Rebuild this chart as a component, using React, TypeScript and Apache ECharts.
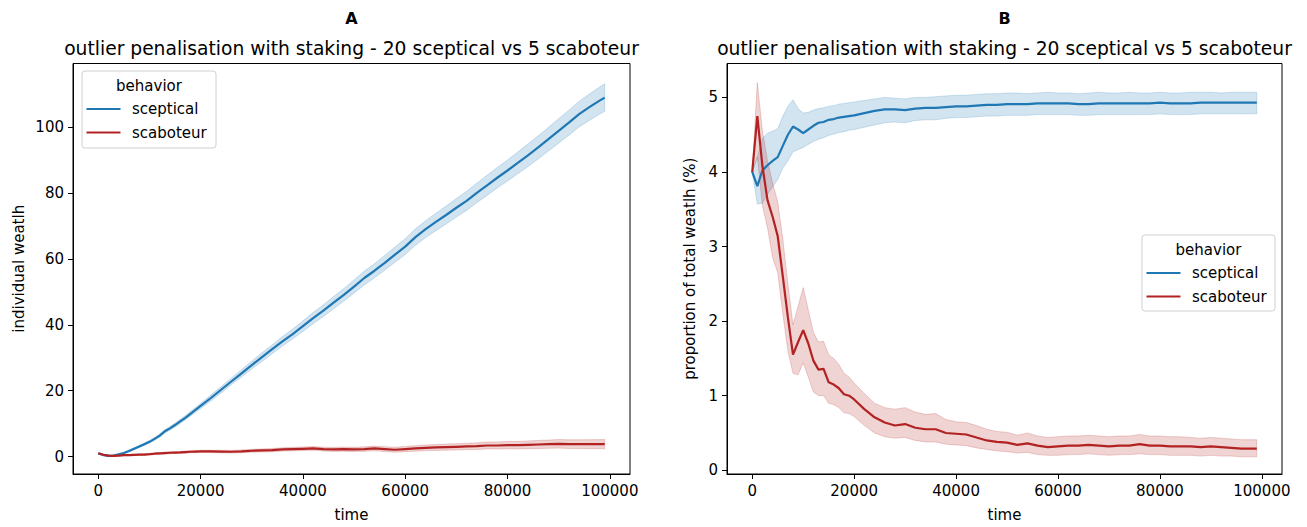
import React, { useEffect, useRef } from "react";
import * as echarts from "echarts";

const T = [0,1000,2000,3000,4000,5000,6000,7000,8000,9000,10000,11000,12000,13000,14000,15000,16000,17000,18000,19000,20000,
22000,24000,26000,28000,30000,32000,34000,36000,38000,40000,
42000,44000,46000,48000,50000,52000,54000,56000,58000,60000,
62000,64000,66000,68000,70000,72000,74000,76000,78000,80000,
82000,84000,86000,88000,90000,92000,94000,96000,98000,
99000];

// Panel A: individual wealth
const A_SC_MEAN = [1.0,0.5,0.25,0.35,0.7,1.1,1.7,2.4,3.1,3.8,4.5,5.4,6.4,7.7,8.6,9.6,10.7,11.8,13.0,14.2,15.4,
17.8,20.3,22.8,25.3,27.8,30.2,32.6,35.0,37.2,39.6,
42.0,44.3,46.7,49.1,51.6,54.2,56.4,58.8,61.3,63.7,
66.6,69.0,71.2,73.3,75.5,77.6,80.0,82.3,84.6,86.8,
89.1,91.4,93.8,96.3,98.8,101.3,103.9,106.0,108.0,
108.9];
const A_SC_LO = [1.0,0.35,0.05,0.15,0.45,0.85,1.4,2.1,2.75,3.45,4.1,4.95,5.9,7.2,8.05,9.0,10.1,11.15,12.3,13.45,14.6,
16.9,19.35,21.8,24.2,26.6,28.9,31.25,33.55,35.7,38.0,
40.3,42.55,44.85,47.2,49.6,52.1,54.25,56.55,59.0,61.3,
64.1,66.45,68.55,70.6,72.7,74.7,77.05,79.25,81.5,83.6,
85.8,88.0,90.3,92.7,95.1,97.5,100.0,102.0,103.9,
104.7];
const A_SC_HI = [1.0,0.65,0.45,0.55,0.95,1.35,2.0,2.7,3.45,4.15,4.9,5.85,6.9,8.2,9.15,10.2,11.3,12.45,13.7,14.95,16.2,
18.7,21.25,23.8,26.4,29.0,31.5,33.95,36.45,38.7,41.2,
43.7,46.05,48.55,51.0,53.6,56.3,58.55,61.05,63.6,66.1,
69.1,71.55,73.85,76.0,78.3,80.5,82.95,85.35,87.7,90.0,
92.4,94.8,97.3,99.9,102.5,105.1,107.8,110.0,112.1,
113.1];
const A_SB_MEAN = [1.0,0.6,0.3,0.25,0.35,0.45,0.5,0.55,0.6,0.65,0.75,0.9,1.0,1.1,1.2,1.25,1.3,1.4,1.5,1.55,1.6,
1.6,1.55,1.5,1.6,1.8,1.9,2.0,2.2,2.3,2.4,
2.5,2.3,2.2,2.3,2.2,2.3,2.5,2.3,2.1,2.3,
2.5,2.7,2.8,2.9,3.0,3.1,3.2,3.4,3.4,3.5,
3.5,3.6,3.7,3.8,3.9,3.8,3.8,3.8,3.8,
3.8];
const A_SB_LO = [1.0,0.45,0.15,0.1,0.2,0.28,0.32,0.35,0.38,0.42,0.5,0.64,0.73,0.82,0.91,0.95,0.99,1.08,1.17,1.21,1.25,
1.23,1.16,1.09,1.17,1.35,1.43,1.51,1.69,1.77,1.85,
1.93,1.71,1.59,1.67,1.55,1.62,1.79,1.56,1.33,1.5,
1.67,1.84,1.91,1.98,2.05,2.12,2.19,2.36,2.33,2.4,
2.36,2.42,2.48,2.54,2.6,2.48,2.46,2.44,2.42,
2.4];
const A_SB_HI = [1.0,0.75,0.45,0.4,0.5,0.62,0.68,0.75,0.82,0.88,1.0,1.16,1.27,1.38,1.49,1.55,1.61,1.72,1.83,1.89,1.95,
1.97,1.94,1.91,2.03,2.25,2.37,2.49,2.71,2.83,2.95,
3.07,2.89,2.81,2.93,2.85,2.98,3.21,3.04,2.87,3.1,
3.33,3.56,3.69,3.82,3.95,4.08,4.21,4.44,4.47,4.6,
4.64,4.78,4.92,5.06,5.2,5.12,5.14,5.16,5.18,
5.2];

// Panel B: proportion of total wealth (%)
const B_SC_MEAN = [4.0,3.81,4.02,4.09,4.15,4.2,4.35,4.5,4.61,4.57,4.52,4.57,4.62,4.66,4.67,4.7,4.71,4.73,4.74,4.75,4.76,
4.79,4.82,4.84,4.84,4.83,4.85,4.86,4.86,4.87,4.88,
4.88,4.89,4.9,4.9,4.91,4.91,4.91,4.92,4.92,4.92,
4.92,4.91,4.91,4.92,4.92,4.92,4.92,4.92,4.92,4.93,
4.92,4.92,4.92,4.93,4.93,4.93,4.93,4.93,4.93,
4.93];
const B_SC_LO = [4.0,3.57,3.58,3.7,3.8,3.9,4.05,4.15,4.27,4.3,4.33,4.37,4.41,4.44,4.46,4.49,4.51,4.53,4.54,4.56,4.57,
4.6,4.63,4.66,4.67,4.66,4.69,4.7,4.7,4.72,4.73,
4.73,4.74,4.75,4.75,4.76,4.76,4.76,4.77,4.77,4.77,
4.77,4.76,4.76,4.77,4.77,4.77,4.77,4.77,4.77,4.78,
4.77,4.77,4.77,4.78,4.78,4.78,4.78,4.78,4.78,
4.78];
const B_SC_HI = [4.0,4.2,4.45,4.52,4.55,4.58,4.75,4.88,4.97,4.85,4.79,4.8,4.83,4.85,4.86,4.88,4.89,4.91,4.92,4.93,4.94,
4.96,4.98,5.0,4.99,4.98,5.0,5.0,5.01,5.02,5.03,
5.03,5.04,5.05,5.05,5.06,5.06,5.05,5.06,5.07,5.06,
5.06,5.05,5.06,5.07,5.06,5.06,5.07,5.06,5.06,5.07,
5.06,5.06,5.07,5.07,5.07,5.06,5.07,5.07,5.07,
5.07];
const B_SB_MEAN = [4.0,4.75,4.08,3.62,3.4,3.14,2.6,2.05,1.55,1.72,1.88,1.7,1.47,1.35,1.36,1.18,1.15,1.1,1.02,1.0,0.95,
0.82,0.71,0.64,0.6,0.62,0.57,0.55,0.55,0.5,0.49,
0.48,0.44,0.4,0.38,0.37,0.34,0.36,0.33,0.31,0.32,
0.33,0.33,0.34,0.33,0.32,0.33,0.33,0.35,0.33,0.33,
0.32,0.32,0.32,0.31,0.32,0.31,0.3,0.29,0.29,
0.29];
const B_SB_LO = [4.0,4.2,3.55,3.25,2.85,2.65,2.1,1.6,1.3,1.28,1.44,1.25,1.05,1.0,1.0,0.9,0.88,0.84,0.77,0.76,0.72,
0.6,0.5,0.45,0.43,0.44,0.4,0.38,0.38,0.35,0.34,
0.33,0.3,0.28,0.26,0.25,0.23,0.24,0.21,0.2,0.2,
0.21,0.21,0.22,0.21,0.2,0.21,0.21,0.22,0.21,0.21,
0.2,0.2,0.2,0.19,0.2,0.19,0.19,0.18,0.18,
0.18];
const B_SB_HI = [4.0,5.2,4.55,4.15,3.85,3.6,3.1,2.5,1.95,2.2,2.45,2.15,1.85,1.72,1.73,1.55,1.5,1.42,1.3,1.25,1.17,
1.03,0.9,0.84,0.82,0.84,0.78,0.75,0.76,0.68,0.65,
0.64,0.6,0.55,0.52,0.51,0.47,0.5,0.46,0.44,0.45,
0.46,0.46,0.47,0.46,0.45,0.46,0.46,0.48,0.46,0.46,
0.45,0.45,0.44,0.43,0.44,0.43,0.42,0.41,0.41,
0.41];

const X_TICKS = [0, 20000, 40000, 60000, 80000, 100000];
const A_Y_TICKS = [0, 20, 40, 60, 80, 100];
const B_Y_TICKS = [0, 1, 2, 3, 4, 5];
const GROUPS = ["sceptical", "scaboteur"];
const PANEL_LABELS = ["A", "B"];
const SUBTITLE = "outlier penalisation with staking - 20 sceptical vs 5 scaboteur";

const BLUE = "#1f77b4";
const RED = "#b22222";
const BLUE_BAND = "rgba(31,119,180,0.2)";
const RED_BAND = "rgba(178,34,34,0.2)";
const FONT = "DejaVu Sans";

function pairs(ys: number[]) {
  return T.map((t, i) => [t, ys[i]]);
}

function groupSeries(key: string, name: string, axis: number, mean: number[], lo: number[], hi: number[], color: string, band: string) {
  return [
    {
      type: "custom", name: key + "-band", xAxisIndex: axis, yAxisIndex: axis,
      coordinateSystem: "cartesian2d", silent: true, clip: true,
      data: T.map((t, i) => [t, lo[i], hi[i]]),
      encode: { x: 0, y: [1, 2] },
      renderItem: (params: any, api: any) => {
        if (params.dataIndex !== 0) return null;
        const pts: number[][] = [];
        for (let i = 0; i < T.length; i++) pts.push(api.coord([T[i], hi[i]]));
        for (let i = T.length - 1; i >= 0; i--) pts.push(api.coord([T[i], lo[i]]));
        return { type: "polygon", shape: { points: pts }, style: { fill: band, stroke: band, lineWidth: 1 } };
      },
    },
    {
      type: "line", name, xAxisIndex: axis, yAxisIndex: axis,
      data: pairs(mean), symbol: "none",
      lineStyle: { color, width: 2.2 }, itemStyle: { color },
    },
  ];
}

function xAxis(idx: number, min: number, max: number) {
  return {
    type: "value", gridIndex: idx, min, max,
    name: "time", nameLocation: "middle", nameGap: 33,
    nameTextStyle: { fontSize: 15, color: "#000", fontFamily: FONT },
    axisLine: { show: true, onZero: false, lineStyle: { color: "#000", width: 1 } },
    axisTick: { show: true, length: 5, customValues: X_TICKS, lineStyle: { color: "#000", width: 1 } },
    axisLabel: { customValues: X_TICKS, formatter: (v: number) => String(v), fontSize: 15, color: "#000", margin: 9, fontFamily: FONT },
    splitLine: { show: false },
  };
}
function yAxis(idx: number, min: number, max: number, ticks: number[], name: string, gap: number) {
  return {
    type: "value", gridIndex: idx, min, max,
    name, nameLocation: "middle", nameGap: gap,
    nameTextStyle: { fontSize: 15, color: "#000", fontFamily: FONT },
    axisLine: { show: true, onZero: false, lineStyle: { color: "#000", width: 1 } },
    axisTick: { show: true, length: 5, customValues: ticks, lineStyle: { color: "#000", width: 1 } },
    axisLabel: { customValues: ticks, formatter: (v: number) => String(v), fontSize: 15, color: "#000", margin: 9, fontFamily: FONT },
    splitLine: { show: false },
  };
}

function legendGraphic(x: number, y: number, w: number, h: number) {
  const cx = x + w / 2;
  return [
    { type: "rect", z: 100, shape: { x, y, width: w, height: h, r: 3 }, style: { fill: "rgba(255,255,255,0.8)", stroke: "#d0d0d0", lineWidth: 1 } },
    { type: "text", z: 101, style: { text: "behavior", x: cx, y: y + 15, fontSize: 15, fontFamily: FONT, fill: "#000", align: "center", verticalAlign: "middle" } },
    { type: "line", z: 101, shape: { x1: x + 4.5, y1: y + 38, x2: x + 38.5, y2: y + 38 }, style: { stroke: BLUE, lineWidth: 2.2 } },
    { type: "line", z: 101, shape: { x1: x + 4.5, y1: y + 61.5, x2: x + 38.5, y2: y + 61.5 }, style: { stroke: RED, lineWidth: 2.2 } },
    { type: "text", z: 101, style: { text: GROUPS[0], x: x + 50, y: y + 38, fontSize: 15, fontFamily: FONT, fill: "#000", align: "left", verticalAlign: "middle" } },
    { type: "text", z: 101, style: { text: GROUPS[1], x: x + 50, y: y + 61.5, fontSize: 15, fontFamily: FONT, fill: "#000", align: "left", verticalAlign: "middle" } },
  ];
}

function titleGraphic(cx: number, label: string) {
  return [
    { type: "text", style: { text: label, x: cx, y: 18.5, fontSize: 16, fontWeight: "bold", fontFamily: FONT, fill: "#000", align: "center", verticalAlign: "middle" } },
    { type: "text", style: { text: SUBTITLE, x: cx, y: 48, fontSize: 18.7, fontFamily: FONT, fill: "#000", align: "center", verticalAlign: "middle" } },
  ];
}

export default function App() {
  const ref = useRef<HTMLDivElement>(null);
  useEffect(() => {
    if (!ref.current) return;
    const chart = echarts.init(ref.current, undefined, { renderer: "svg" });
    const gridA = { left: 73, top: 63.5, width: 557, height: 415 };
    const gridB = { left: 727, top: 63.5, width: 555, height: 415 };
    chart.setOption({
      animation: false,
      backgroundColor: "#fff",
      textStyle: { fontFamily: FONT },
      grid: [
        { ...gridA, show: true, borderColor: "#000", borderWidth: 1, containLabel: false },
        { ...gridB, show: true, borderColor: "#000", borderWidth: 1, containLabel: false },
      ],
      xAxis: [xAxis(0, -4950, 103950), xAxis(1, -4950, 103950)],
      yAxis: [
        yAxis(0, -5.25, 119.25, A_Y_TICKS, "individual weatlh", 47),
        yAxis(1, -0.05, 5.455, B_Y_TICKS, "proportion of total weatlh (%)", 30),
      ],
      series: [
        ...groupSeries("a-sc", GROUPS[0], 0, A_SC_MEAN, A_SC_LO, A_SC_HI, BLUE, BLUE_BAND),
        ...groupSeries("a-sb", GROUPS[1], 0, A_SB_MEAN, A_SB_LO, A_SB_HI, RED, RED_BAND),
        ...groupSeries("b-sc", GROUPS[0], 1, B_SC_MEAN, B_SC_LO, B_SC_HI, BLUE, BLUE_BAND),
        ...groupSeries("b-sb", GROUPS[1], 1, B_SB_MEAN, B_SB_LO, B_SB_HI, RED, RED_BAND),
      ],
      graphic: [
        ...titleGraphic(gridA.left + gridA.width / 2, PANEL_LABELS[0]),
        ...titleGraphic(gridB.left + gridB.width / 2, PANEL_LABELS[1]),
        ...legendGraphic(82, 71, 134, 77),
        ...legendGraphic(1142, 235, 133, 76),
      ],
    });
    return () => chart.dispose();
  }, []);
  return <div ref={ref} style={{ position: "absolute", left: 0, top: 0, width: 1307, height: 527 }} />;
}
